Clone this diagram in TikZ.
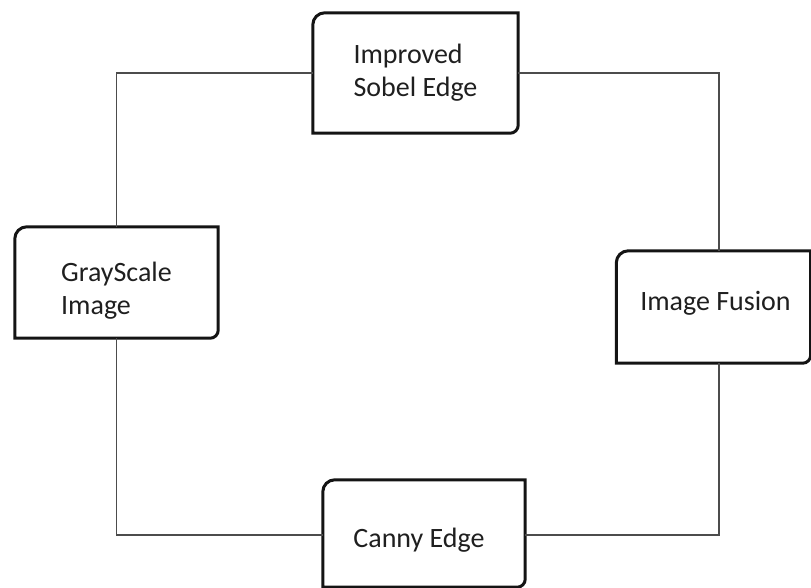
\documentclass[tikz,border=0pt]{standalone}
\usepackage{fontspec}
\setmainfont{Carlito}
\begin{document}
\begin{tikzpicture}[x=1pt,y=-1pt,
  box/.style={rectangle,draw=none,inner sep=0pt},
  frame/.style={draw=black!92,line width=3pt},
  lbl/.style={inner sep=0pt,align=left,text=black!88,
    font=\fontsize{28}{33}\selectfont},
  link/.style={draw=black!70,line width=1.1pt}]
\useasboundingbox (0,0) rectangle (811,588);

% stage boxes (outline drawn below)
\node[box,minimum width=205pt,minimum height=120pt] (sobel)  at (415.5,73)  {};
\node[box,minimum width=203pt,minimum height=111pt] (gray)   at (116.5,282.5) {};
\node[box,minimum width=194pt,minimum height=112pt] (fusion) at (713.5,307) {};
\node[box,minimum width=202pt,minimum height=107pt] (canny)  at (424,533.5) {};

% outlines: rounded top-left and bottom-right corners
% (\ra, \ka: radius and control offset of the top-left corner;
%  \rb, \kb: the same for the bottom-right corner)
\foreach \n/\ra/\ka/\rb/\kb in {sobel/12/5.4/8/3.6,gray/12/5.4/8/3.6,
                                 fusion/12/5.4/8/3.6,canny/12/5.4/8/3.6}{
  \draw[frame] (\n.south west) -- ([yshift=-\ra pt]\n.north west)
    .. controls ([yshift=-\ka pt]\n.north west) and ([xshift=\ka pt]\n.north west)
    .. ([xshift=\ra pt]\n.north west)
    -- (\n.north east) -- ([yshift=\rb pt]\n.south east)
    .. controls ([yshift=\kb pt]\n.south east) and ([xshift=-\kb pt]\n.south east)
    .. ([xshift=-\rb pt]\n.south east) -- cycle;
}

% labels
\node[lbl] (sobelText)  at (sobel.center)                    {Improved\\Sobel Edge};
\node[lbl] (grayText)   at ([yshift=-8pt]gray.center)        {GrayScale\\Image};
\node[lbl] (fusionText) at ([xshift=2pt,yshift=4pt]fusion.center) {Image Fusion};
\node[lbl] (cannyText)  at ([xshift=-5pt,yshift=-6.5pt]canny.center) {Canny Edge};

% loop of connectors
\draw[link] (sobel.west) -| (gray.north);
\draw[link] (gray.south) |- ([yshift=-1.5pt]canny.west);
\draw[link] ([yshift=-1.5pt]canny.east) -| ([xshift=5.5pt]fusion.south);
\draw[link] ([xshift=5.5pt]fusion.north) |- (sobel.east);
\end{tikzpicture}
\end{document}
